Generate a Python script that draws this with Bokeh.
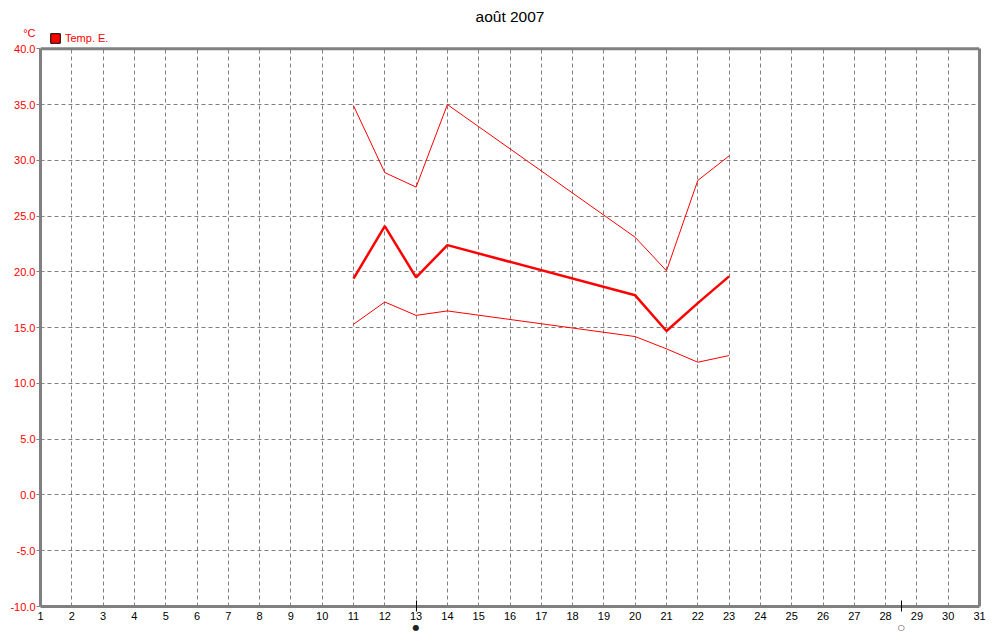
from bokeh.plotting import figure
from bokeh.models import (ColumnDataSource, FixedTicker, NumeralTickFormatter, Legend,
                          LegendItem, Range1d, LinearAxis, BoxAnnotation, Span)
from bokeh.embed import file_html
from bokeh.resources import INLINE

# ---- data ----
title_text = "août 2007"
unit_label = "°C"
series_name = "Temp. E."
days = [11, 12, 13, 14, 20, 21, 22, 23]
temp_max = [34.9, 28.9, 27.6, 35.0, 23.1, 20.1, 28.2, 30.4]
temp_mean = [19.4, 24.1, 19.5, 22.4, 17.9, 14.7, 17.2, 19.6]
temp_min = [15.3, 17.3, 16.1, 16.5, 14.2, 13.1, 11.9, 12.5]
x_ticks = list(range(1, 32))
y_ticks = [-10, -5, 0, 5, 10, 15, 20, 25, 30, 35, 40]
y_min, y_max = -10, 40
unit_pos = 41.4          # height at which the unit label sits, above the 40.0 line
y_view_max = 42.0        # room above the plot box for the legend row
moon_days = [13, 28.5]
moon_symbols = ["●", "○"]

FONT = "Liberation Sans"
RED = "#FF0000"
GRAY = "#808080"

p = figure(width=1007, height=634, output_backend="svg", toolbar_location=None,
           x_range=Range1d(1, 31), y_range=Range1d(y_min, y_view_max), title=title_text,
           min_border_left=40, min_border_right=28, min_border_top=26, min_border_bottom=26)
p.outline_line_color = None

p.title.align = "center"
p.title.text_font = FONT
p.title.text_font_size = "15.5px"
p.title.text_font_style = "normal"
p.title.text_color = "black"
p.title.standoff = 4

p.xgrid.grid_line_color = GRAY
p.ygrid.grid_line_color = GRAY
for g in (p.xgrid, p.ygrid):
    g.grid_line_dash = "4 3"
    g.grid_line_width = 1

src = ColumnDataSource(dict(day=days, tmax=temp_max, tmean=temp_mean, tmin=temp_min))
p.line("day", "tmax", source=src, line_color=RED, line_width=1)
p.line("day", "tmin", source=src, line_color=RED, line_width=1)
p.line("day", "tmean", source=src, line_color=RED, line_width=2.5)

# blank band above the 40.0 line (legend row), then the top border of the plot box
p.add_layout(BoxAnnotation(bottom=y_max, fill_color="white", fill_alpha=1, line_color=None))
p.add_layout(Span(location=y_max, dimension="width", line_color=GRAY, line_width=3))

# legend swatch renderer (not drawn in the plot)
nan = float("nan")
sw = p.quad(left=[nan], right=[nan], top=[nan], bottom=[nan],
            fill_color=RED, line_color="black", line_width=1)
legend = Legend(items=[LegendItem(label=series_name, renderers=[sw])],
                location=(9, 562), orientation="horizontal",
                glyph_width=12, glyph_height=12, label_standoff=4,
                label_text_font=FONT, label_text_font_size="11px", label_text_color=RED,
                background_fill_alpha=0, border_line_alpha=0, padding=0, margin=0,
                label_height=12)
p.add_layout(legend, "center")

# x axis
p.xaxis.ticker = FixedTicker(ticks=x_ticks, minor_ticks=moon_days)
p.xaxis.axis_line_color = GRAY
p.xaxis.axis_line_width = 3
p.xaxis.major_tick_line_color = None
p.xaxis.major_tick_out = 0
p.xaxis.major_tick_in = 0
p.xaxis.minor_tick_line_color = "black"
p.xaxis.minor_tick_in = 6
p.xaxis.minor_tick_out = 5
p.xaxis.major_label_text_font = FONT
p.xaxis.major_label_text_font_size = "11px"
p.xaxis.major_label_text_color = "black"
p.xaxis.major_label_standoff = 0

# inner left axis: only the left edge of the plot box
p.yaxis.ticker = FixedTicker(ticks=[])
p.yaxis.bounds = (y_min, y_max)
p.yaxis.axis_line_color = GRAY
p.yaxis.axis_line_width = 3
p.yaxis.major_tick_line_color = None
p.yaxis.minor_tick_line_color = None
p.yaxis.major_tick_out = 0
p.yaxis.major_tick_in = 0
p.yaxis.major_label_standoff = 0
p.ygrid.ticker = FixedTicker(ticks=y_ticks)

# outer left axis: red tick labels, the unit, and small ticks (as minor ticks)
label_axis = LinearAxis(ticker=FixedTicker(ticks=y_ticks + [unit_pos], minor_ticks=y_ticks),
                        formatter=NumeralTickFormatter(format="0.0"),
                        major_label_overrides={unit_pos: unit_label},
                        axis_line_color=None, major_tick_line_color=None,
                        major_tick_out=4, major_tick_in=0,
                        minor_tick_line_color=GRAY, minor_tick_out=4, minor_tick_in=0,
                        major_label_standoff=1, major_label_text_font=FONT,
                        major_label_text_font_size="11px", major_label_text_color=RED)
p.add_layout(label_axis, "left")

# right edge of the box
right_axis = LinearAxis(bounds=(y_min, y_max), ticker=FixedTicker(ticks=[]),
                        axis_line_color=GRAY, axis_line_width=3,
                        major_tick_line_color=None, minor_tick_line_color=None,
                        major_tick_out=0, major_tick_in=0, major_label_standoff=0)
p.add_layout(right_axis, "right")

# moon phase symbols under the day labels
moon_axis = LinearAxis(ticker=FixedTicker(ticks=moon_days),
                       major_label_overrides={d: s for d, s in zip(moon_days, moon_symbols)},
                       axis_line_color=None, major_tick_line_color=None,
                       minor_tick_line_color=None, major_tick_out=0, major_tick_in=0,
                       major_label_standoff=0, major_label_text_font="DejaVu Sans",
                       major_label_text_font_size="8px", major_label_text_color="#222222")
p.add_layout(moon_axis, "below")

open("out.html", "w").write(file_html(p, INLINE))
